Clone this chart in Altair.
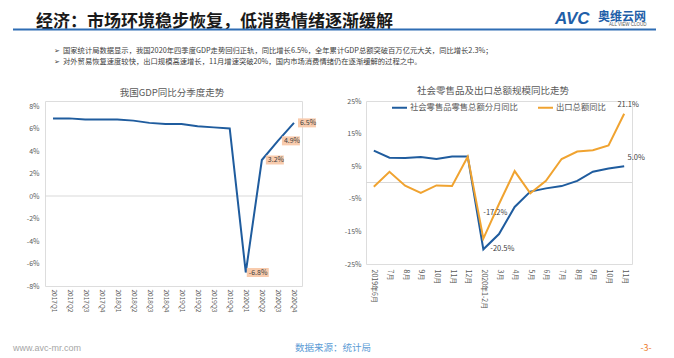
import json
import altair as alt
import pandas as pd

# ---------------- data ----------------
quarters = ["2017Q1", "2017Q2", "2017Q3", "2017Q4",
            "2018Q1", "2018Q2", "2018Q3", "2018Q4",
            "2019Q1", "2019Q2", "2019Q3", "2019Q4",
            "2020Q1", "2020Q2", "2020Q3", "2020Q4"]
gdp_yoy = [6.9, 6.9, 6.8, 6.8, 6.8, 6.7, 6.5, 6.4, 6.4, 6.2, 6.1, 6.0, -6.8, 3.2, 4.9, 6.5]
gdp_labelled = ["2020Q1", "2020Q2", "2020Q3", "2020Q4"]

months = ["2019年6月", "7月", "8月", "9月", "10月", "11月", "12月", "2020年1-2月",
          "3月", "4月", "5月", "6月", "7月", "8月", "9月", "10月", "11月"]
series_names = ["社会零售品零售总额分月同比", "出口总额同比"]
retail_yoy = [9.8, 7.6, 7.5, 7.8, 7.2, 8.0, 8.0, -20.5, -15.8, -7.5, -2.8, -1.8, -1.1, 0.5, 3.3, 4.3, 5.0]
export_yoy = [-1.3, 3.3, -1.0, -3.2, -0.9, -1.1, 7.9, -17.2, -6.6, 3.5, -3.3, 0.5, 7.2, 9.5, 9.9, 11.4, 21.1]
min_idx, last_idx = 7, 16

page_title = "经济：市场环境稳步恢复，低消费情绪逐渐缓解"
bullets = ["国家统计局数据显示，我国2020年四季度GDP走势回归正轨，同比增长6.5%，全年累计GDP总额突破百万亿元大关，同比增长2.3%；",
           "对外贸易恢复速度较快，出口规模高速增长，11月增速突破20%，国内市场消费情绪仍在逐渐缓解的过程之中。"]
left_title = "我国GDP同比分季度走势"
right_title = "社会零售品及出口总额规模同比走势"
source_txt = "数据来源：统计局"
site_txt = "www.avc-mr.com"
page_no = "-3-"

# ---------------- style ----------------
FONT = "Noto Sans CJK SC"
BLUE = "#1F5C9E"
ORANGE = "#F0A330"
GRAY = "#595959"
DARK = "#404040"
BOX = "#F8CBAD"

W1, H1 = 257, 185
W2, H2 = 266, 163


def txt(s, x, y, size, color, weight="normal", align="left", baseline="middle",
        font=FONT, style="normal"):
    return alt.Chart(pd.DataFrame({"t": [s]})).mark_text(
        align=align, baseline=baseline, fontSize=size, color=color, fontWeight=weight,
        font=font, fontStyle=style
    ).encode(text="t:N", x=alt.value(x), y=alt.value(y))


# ---------------- left panel ----------------
gdp_df = pd.DataFrame({"q": quarters, "v": gdp_yoy})
gdp_df["lbl"] = [f"{v}%" if q in gdp_labelled else "" for q, v in zip(quarters, gdp_yoy)]

x1 = alt.X("q:O", sort=quarters, scale=alt.Scale(type="point", padding=0.5),
           axis=alt.Axis(title=None, labelAngle=90, labelAlign="left", labelBaseline="middle",
                         labelFontSize=6.5, labelColor=GRAY, labelFont=FONT, domain=False,
                         ticks=False, labelPadding=3, labelOverlap=False))
y1 = alt.Y("v:Q", scale=alt.Scale(domain=[-8, 8 + 5 / 11.25], nice=False, zero=False),
           axis=alt.Axis(title=None, values=list(range(-8, 9, 2)), labelExpr="datum.value + '%'",
                         grid=False, domain=False, ticks=False, labelFontSize=7, labelColor=GRAY,
                         labelFont=FONT, labelPadding=6))

lbase = alt.Chart(gdp_df)
l_zero = alt.Chart(pd.DataFrame({"v": [0]})).mark_rule(color="#D9D9D9", strokeWidth=1).encode(
    y=y1, x=alt.value(0), x2=alt.value(W1))
l_line = lbase.mark_line(color=BLUE, strokeWidth=2).encode(x=x1, y=y1)
l_box_pos = lbase.transform_filter("datum.lbl != '' && datum.v >= 0").mark_point(
    shape="M4,-4.5L22,-4.5L22,4.5L4,4.5Z", size=4, filled=True, color=BOX, opacity=1,
    strokeWidth=0).encode(x=x1, y=y1)
l_box_neg = lbase.transform_filter("datum.lbl != '' && datum.v < 0").mark_point(
    shape="M1,-4.5L23,-4.5L23,4.5L1,4.5Z", size=4, filled=True, color=BOX, opacity=1,
    strokeWidth=0).encode(x=x1, y=y1)
l_txt_pos = lbase.transform_filter("datum.lbl != '' && datum.v >= 0").mark_text(
    align="left", baseline="middle", dx=6, fontSize=7, color=DARK, font=FONT).encode(
    x=x1, y=y1, text="lbl:N")
l_txt_neg = lbase.transform_filter("datum.lbl != '' && datum.v < 0").mark_text(
    align="left", baseline="middle", dx=3, fontSize=7, color=DARK, font=FONT).encode(
    x=x1, y=y1, text="lbl:N")

anchor = alt.Chart(pd.DataFrame({"t": [0]})).mark_rule(opacity=0, strokeWidth=0).encode(
    x=alt.value(-36), x2=alt.value(-35), y=alt.value(-92))
header_rule = alt.Chart(pd.DataFrame({"t": [0]})).mark_rule(color="#2E6DB4", strokeWidth=2.2).encode(
    x=alt.value(-32), x2=alt.value(611), y=alt.value(-71.5))

left = alt.layer(
    anchor,
    l_zero, l_line, l_box_pos, l_box_neg, l_txt_pos, l_txt_neg,
    txt(left_title, 127, -8, 9.5, GRAY, align="center"),
    txt(page_title, -9, -79.5, 17, "#1A1A1A", weight="bold"),
    header_rule,
    txt("➢", 9, -50, 7, DARK, font="DejaVu Sans"),
    txt(bullets[0], 18, -50, 7.3, DARK),
    txt("➢", 9, -39, 7, DARK, font="DejaVu Sans"),
    txt(bullets[1], 18, -39, 7.3, DARK),
    txt("AVC", 510, -82, 17, "#1F5FA8", weight="bold", style="italic", font="Liberation Sans"),
    txt("奥维云网", 553, -84.5, 12, "#1F5FA8", weight="bold"),
    txt("ALL VIEW CLOUD", 564, -76, 4.5, GRAY, font="Liberation Sans"),
    txt(site_txt, -32, 247, 9, "#A6A6A6", font="Liberation Sans"),
).properties(width=W1, height=H1)

# ---------------- right panel ----------------
n = len(months)
right_df = pd.DataFrame({
    "i": list(range(n)) * 2,
    "series": [series_names[0]] * n + [series_names[1]] * n,
    "v": retail_yoy + export_yoy,
})
right_df["lbl"] = right_df["v"].map(lambda v: f"{v:.1f}%")

x2 = alt.X("i:O", scale=alt.Scale(type="point", padding=0.5),
           axis=alt.Axis(title=None, labelExpr=f"{json.dumps(months, ensure_ascii=False)}[datum.value]",
                         labelAngle=90, labelAlign="left", labelBaseline="middle", labelFontSize=7,
                         labelColor=GRAY, labelFont=FONT, domain=False, ticks=False, labelPadding=5,
                         labelOverlap=False))
y2 = alt.Y("v:Q", scale=alt.Scale(domain=[-25, 25], nice=False, zero=False),
           axis=alt.Axis(title=None, values=[-25, -15, -5, 5, 15, 25], labelExpr="datum.value + '%'",
                         grid=False, domain=False, ticks=False, labelFontSize=7, labelColor=GRAY,
                         labelFont=FONT, labelPadding=5))
color2 = alt.Color("series:N", scale=alt.Scale(domain=series_names, range=[BLUE, ORANGE]),
                   legend=alt.Legend(title=None, orient="none", legendX=25, legendY=-2,
                                     direction="horizontal", symbolType="stroke", symbolSize=225,
                                     symbolStrokeWidth=2, labelFontSize=8.3, labelColor=GRAY,
                                     labelFont=FONT, columnPadding=16, labelOffset=2, padding=0))

rbase = alt.Chart(right_df)
r_zero = alt.Chart(pd.DataFrame({"v": [0]})).mark_rule(color="#D9D9D9", strokeWidth=1).encode(
    y=y2, x=alt.value(0), x2=alt.value(W2))
r_lines = rbase.mark_line(strokeWidth=2).encode(x=x2, y=y2, color=color2)


def rlabel(idx, series, align, dx, dy):
    return rbase.transform_filter(
        f"datum.i == {idx} && datum.series == '{series}'").mark_text(
        align=align, baseline="middle", dx=dx, dy=dy, fontSize=7.5, color=DARK, font=FONT).encode(
        x=x2, y=y2, text="lbl:N")


right = alt.layer(
    r_zero, r_lines,
    rlabel(min_idx, series_names[1], "left", 0, -26),
    rlabel(min_idx, series_names[0], "left", 7, 0),
    rlabel(last_idx, series_names[1], "center", 4, -9),
    rlabel(last_idx, series_names[0], "center", 12, -8),
    txt(right_title, 127, -10, 9.5, GRAY, align="center"),
    txt(source_txt, -33, 247, 9.5, "#5B9BD5", align="center"),
    txt(page_no, 280, 247, 9, "#ED7D31", align="center"),
).properties(width=W2, height=H2)

chart = alt.hconcat(left, right, spacing=64, bounds="flush").resolve_legend(
    color="independent"
).properties(
    padding=0
).configure_view(stroke=None).configure(font=FONT)

chart.save("out.html", embed_options={"renderer": "svg", "actions": False})
